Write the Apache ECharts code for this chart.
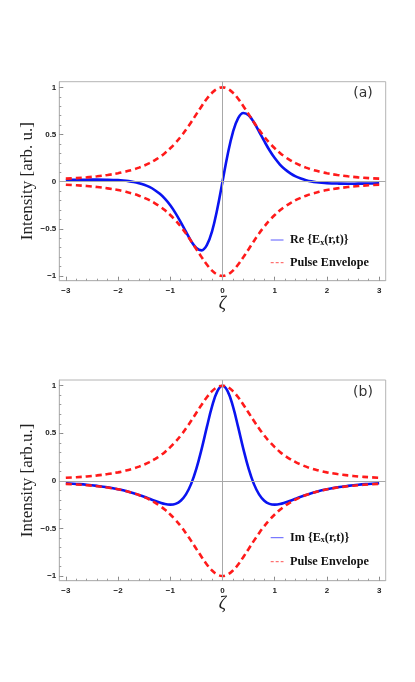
<!DOCTYPE html>
<html>
<head>
<meta charset="utf-8">
<script src="https://cdn.jsdelivr.net/npm/echarts@6/dist/echarts.min.js"></script>
<style>html,body{margin:0;padding:0;background:#fff}#c{width:415px;height:682px}</style>
</head>
<body>
<div id="c"></div>
<script>
const zeta = [-3,-2.8,-2.6,-2.4,-2.2,-2,-1.9,-1.8,-1.7,-1.6,-1.5,-1.4,-1.3,-1.2,-1.1,-1,-0.9,-0.8,-0.7,-0.6,-0.5,-0.4,-0.3,-0.2,-0.1,0,0.1,0.2,0.3,0.4,0.5,0.6,0.7,0.8,0.9,1,1.1,1.2,1.3,1.4,1.5,1.6,1.7,1.8,1.9,2,2.2,2.4,2.6,2.8,3];
const envUpper = [0.032,0.038,0.046,0.057,0.071,0.089,0.101,0.115,0.130,0.149,0.171,0.196,0.227,0.262,0.304,0.354,0.411,0.476,0.550,0.631,0.716,0.800,0.879,0.943,0.985,1,0.985,0.943,0.879,0.800,0.716,0.631,0.550,0.476,0.411,0.354,0.304,0.262,0.227,0.196,0.171,0.149,0.130,0.115,0.101,0.089,0.071,0.057,0.046,0.038,0.032];
const envLower = [-0.032,-0.038,-0.046,-0.057,-0.071,-0.089,-0.101,-0.115,-0.130,-0.149,-0.171,-0.196,-0.227,-0.262,-0.304,-0.354,-0.411,-0.476,-0.550,-0.631,-0.716,-0.800,-0.879,-0.943,-0.985,-1,-0.985,-0.943,-0.879,-0.800,-0.716,-0.631,-0.550,-0.476,-0.411,-0.354,-0.304,-0.262,-0.227,-0.196,-0.171,-0.149,-0.130,-0.115,-0.101,-0.089,-0.071,-0.057,-0.046,-0.038,-0.032];
const reA = [0.018,0.020,0.021,0.022,0.020,0.016,0.012,0.006,-0.003,-0.016,-0.033,-0.056,-0.088,-0.129,-0.182,-0.250,-0.333,-0.429,-0.531,-0.630,-0.704,-0.728,-0.674,-0.526,-0.290,0,0.290,0.526,0.674,0.728,0.704,0.630,0.531,0.429,0.333,0.250,0.182,0.129,0.088,0.056,0.033,0.016,0.003,-0.006,-0.012,-0.016,-0.020,-0.022,-0.021,-0.020,-0.018];
const imB = [-0.026,-0.033,-0.041,-0.053,-0.068,-0.088,-0.100,-0.114,-0.130,-0.148,-0.167,-0.188,-0.209,-0.228,-0.244,-0.250,-0.242,-0.209,-0.142,-0.032,0.128,0.333,0.564,0.782,0.941,1,0.941,0.782,0.564,0.333,0.128,-0.032,-0.142,-0.209,-0.242,-0.250,-0.244,-0.228,-0.209,-0.188,-0.167,-0.148,-0.130,-0.114,-0.100,-0.088,-0.068,-0.053,-0.041,-0.033,-0.026];
const xTicks = [-3,-2,-1,0,1,2,3];
const xMinorTicks = [-3,-2.8,-2.6,-2.4,-2.2,-2,-1.8,-1.6,-1.4,-1.2,-1,-0.8,-0.6,-0.4,-0.2,0,0.2,0.4,0.6,0.8,1,1.2,1.4,1.6,1.8,2,2.2,2.4,2.6,2.8,3];
const yTicks = [-1,-0.5,0,0.5,1];
const yMinorTicks = [-1,-0.9,-0.8,-0.7,-0.6,-0.5,-0.4,-0.3,-0.2,-0.1,0,0.1,0.2,0.3,0.4,0.5,0.6,0.7,0.8,0.9,1];
const panelLabels = ['(a)','(b)'];
const yNames = ['Intensity [arb. u.]','Intensity [arb.u.]'];
const curveNames = ['Re','Im'];
const envName = 'Pulse Envelope';

const pair = (ys) => zeta.map((x,i)=>[x, ys[i]]);
const fmt = v => v < 0 ? '\u2212' + Math.abs(v) : String(v);
const FRAME = '#b4b4b4';
const tickFont = {fontFamily:'Liberation Sans', fontWeight:'bold', fontSize:8, color:'#222'};

const grids = [
  {left:59.3, top:81.7, width:326.4, height:199, show:true, borderColor:FRAME, borderWidth:1},
  {left:59.3, top:380, width:326.4, height:200.7, show:true, borderColor:FRAME, borderWidth:1}
];
const xMin=-3.125, xMax=3.125, yMin=-1.05, yMax=1.06;
const xAxes=[], yAxes=[];
for (let g=0; g<2; g++) {
  xAxes.push({type:'value', gridIndex:g, min:xMin, max:xMax, position:'bottom',
    axisLine:{show:true, onZero:false, lineStyle:{color:FRAME, width:1}},
    axisTick:{show:true, inside:true, length:4, customValues:xTicks, lineStyle:{color:'#888'}},
    axisLabel:{show:true, customValues:xTicks, formatter:fmt, margin:6, ...tickFont},
    splitLine:{show:false},
    name:'\u03b6', nameLocation:'middle', nameGap:15, nameMoveOverlap:false,
    nameTextStyle:{fontFamily:'Liberation Serif', fontStyle:'italic', fontSize:18, color:'#222'}});
  xAxes.push({type:'value', gridIndex:g, min:xMin, max:xMax, position:'bottom',
    axisLine:{show:false, onZero:false},
    axisTick:{show:true, inside:true, length:2, customValues:xMinorTicks, lineStyle:{color:'#999'}},
    axisLabel:{show:false}, splitLine:{show:false}});
  yAxes.push({type:'value', gridIndex:g, min:yMin, max:yMax, position:'left',
    axisLine:{show:true, onZero:false, lineStyle:{color:FRAME, width:1}},
    axisTick:{show:true, inside:true, length:4, customValues:yTicks, lineStyle:{color:'#888'}},
    axisLabel:{show:true, customValues:yTicks, formatter:fmt, margin:3, ...tickFont},
    splitLine:{show:false},
    name:yNames[g], nameLocation:'middle', nameGap:23, nameMoveOverlap:false,
    nameTextStyle:{fontFamily:'Liberation Serif', fontSize:17, color:'#222'}});
  yAxes.push({type:'value', gridIndex:g, min:yMin, max:yMax, position:'left',
    axisLine:{show:false, onZero:false},
    axisTick:{show:true, inside:true, length:2, customValues:yMinorTicks, lineStyle:{color:'#999'}},
    axisLabel:{show:false}, splitLine:{show:false}});
}

const blue = {color:'#0a14f0', width:2.6};
const red = {color:'#ff1a1a', width:2.6, type:[6,4]};
const series = [];
const curves = [reA, imB];
for (let g=0; g<2; g++) {
  series.push({type:'line', xAxisIndex:2*g, yAxisIndex:2*g, data:[], z:1, silent:true,
    markLine:{silent:true, symbol:'none', label:{show:false}, animation:false,
      lineStyle:{color:'#a8a8a8', width:1, type:'solid'},
      data:[{xAxis:0},{yAxis:0}]}});
  series.push({type:'line', name:curveNames[g], xAxisIndex:2*g, yAxisIndex:2*g, data:pair(curves[g]),
    showSymbol:false, symbol:'none', smooth:0.4, lineStyle:blue, itemStyle:{color:blue.color}, z:3});
  series.push({type:'line', name:envName, xAxisIndex:2*g, yAxisIndex:2*g, data:pair(envUpper),
    showSymbol:false, symbol:'none', smooth:0.4, lineStyle:red, itemStyle:{color:red.color}, z:4});
  series.push({type:'line', name:envName, xAxisIndex:2*g, yAxisIndex:2*g, data:pair(envLower),
    showSymbol:false, symbol:'none', smooth:0.4, lineStyle:red, itemStyle:{color:red.color}, z:4});
}

// legend (drawn as graphic keys)
const legRich = {s:{fontFamily:'Liberation Serif', fontWeight:'bold', fontSize:8, fill:'#111', padding:[5,0,0,0]}};
const legY = [[240, 262.7],[537.7, 561.7]];
const graphics = [];
for (let g=0; g<2; g++) {
  graphics.push({type:'line', shape:{x1:270.7, y1:legY[g][0], x2:283.5, y2:legY[g][0]},
    style:{stroke:'#5a5aff', lineWidth:1}});
  graphics.push({type:'line', shape:{x1:270.7, y1:legY[g][1], x2:283.5, y2:legY[g][1]},
    style:{stroke:'#ff5050', lineWidth:1, lineDash:[3,2]}});
  graphics.push({type:'text', x:290, y:legY[g][0],
    style:{text:curveNames[g] + ' {E{s|x}(r,t)}', fontFamily:'Liberation Serif', fontWeight:'bold', fontSize:12.2,
      fill:'#111', verticalAlign:'middle', rich:legRich}});
  graphics.push({type:'text', x:290, y:legY[g][1],
    style:{text:envName, fontFamily:'Liberation Serif', fontWeight:'bold', fontSize:12.2,
      fill:'#111', verticalAlign:'middle'}});
  graphics.push({type:'text', x:363, y:[93,392][g],
    style:{text:panelLabels[g], font:'14px "DejaVu Sans"', fill:'#333', align:'center', verticalAlign:'middle'}});
}

const chart = echarts.init(document.getElementById('c'), null, {renderer:'canvas'});
chart.setOption({
  backgroundColor:'#fff', animation:false,
  grid:grids, xAxis:xAxes, yAxis:yAxes, series:series, graphic:graphics
});
</script>
</body>
</html>
